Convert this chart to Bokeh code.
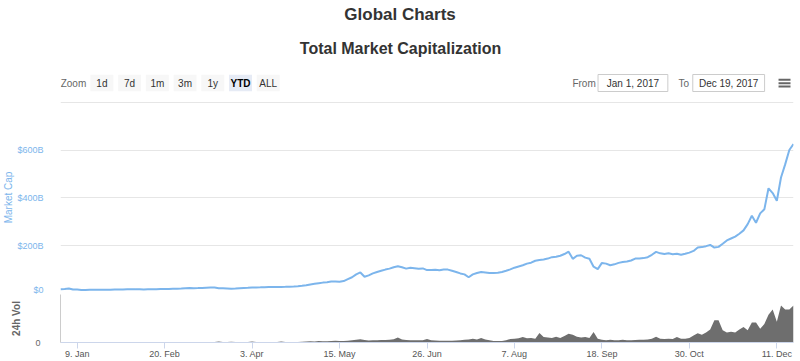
import pandas as pd
from bokeh.plotting import figure
from bokeh.layouts import column
from bokeh.models import Range1d, FixedTicker
from bokeh.core.properties import value
from bokeh.embed import file_html
from bokeh.resources import INLINE

# ---------------- data ----------------
title_text = "Global Charts"
subtitle_text = "Total Market Capitalization"
zoom_label = "Zoom"
zoom_buttons = ["1d", "7d", "1m", "3m", "1y", "YTD", "ALL"]
selected_button = "YTD"
from_label = "From"
to_label = "To"
from_date_text = "Jan 1, 2017"
to_date_text = "Dec 19, 2017"

start_date = "2017-01-01"
step_days = 2

# total market capitalization, billions USD, every 2 days from Jan 1 to Dec 19 2017
market_cap_billions = [
    # Jan
    17.7, 19.0, 21.0, 16.8, 16.5, 14.6, 14.4, 15.2, 16.0, 15.9, 16.1, 16.0, 16.0, 16.3, 16.4, 17.0,
    # Feb
    17.4, 17.6, 17.9, 18.2, 17.2, 17.6, 17.8, 18.0, 18.4, 18.6, 19.2, 19.6, 19.9, 20.6,
    # Mar
    21.8, 22.6, 22.4, 22.8, 23.4, 24.2, 24.6, 25.0, 22.2, 21.6, 20.8, 19.8, 20.6, 21.6, 22.6,
    # Apr
    23.6, 25.0, 25.6, 26.0, 26.6, 26.8, 27.0, 27.4, 27.6, 28.0, 28.6, 29.2, 30.2, 32.0, 34.2,
    # May
    38.0, 40.5, 43.0, 45.5, 47.0, 50.0, 50.5, 49.0, 52.0, 60.0, 68.0, 80.0, 88.0, 70.0, 76.0, 84.0,
    # Jun
    90.0, 95.0, 100.0, 104.0, 110.0, 114.0, 110.0, 104.0, 108.0, 106.0, 104.0, 105.0, 98.0, 98.0, 99.0,
    # Jul
    97.0, 100.0, 100.0, 95.0, 90.0, 84.0, 80.0, 68.0, 80.0, 86.0, 90.0, 88.0, 86.0, 86.0, 87.0,
    # Aug
    90.0, 95.0, 101.0, 108.0, 113.0, 118.0, 125.0, 129.0, 137.0, 140.0, 142.0, 146.0, 152.0, 154.0, 158.0, 165.0,
    # Sep
    175.0, 145.0, 158.0, 160.0, 150.0, 145.0, 112.0, 102.0, 128.0, 125.0, 118.0, 122.0, 128.0, 132.0, 134.0,
    # Oct
    138.0, 146.0, 146.0, 148.0, 152.0, 162.0, 174.0, 168.0, 165.0, 168.0, 164.0, 166.0, 162.0, 166.0, 171.0,
    # Nov
    178.0, 192.0, 194.0, 198.0, 203.0, 192.0, 195.0, 208.0, 222.0, 230.0, 238.0, 250.0, 264.0, 290.0, 325.0,
    # Dec
    296.0, 335.0, 352.0, 440.0, 420.0, 388.0, 485.0, 540.0, 600.0, 625.0,
]

# 24h volume, billions USD, same dates
volume_billions = [
    # Jan
    0.3, 0.3, 0.6, 0.5, 0.3, 0.3, 0.2, 0.2, 0.2, 0.2, 0.2, 0.2, 0.2, 0.2, 0.2, 0.2,
    # Feb
    0.2, 0.2, 0.2, 0.2, 0.2, 0.2, 0.2, 0.2, 0.2, 0.3, 0.3, 0.3, 0.3, 0.3,
    # Mar
    0.3, 0.4, 0.4, 0.4, 0.5, 0.4, 0.5, 0.6, 1.2, 0.8, 0.6, 1.0, 0.6, 0.5, 0.5,
    # Apr
    0.6, 1.2, 0.6, 0.6, 0.6, 0.6, 0.7, 0.6, 1.2, 0.7, 0.7, 0.8, 0.8, 1.0, 1.4,
    # May
    1.5, 1.4, 1.8, 1.6, 1.6, 2.0, 2.2, 2.0, 1.8, 2.4, 2.8, 3.6, 4.2, 3.4, 2.6, 2.8,
    # Jun
    3.0, 3.2, 3.4, 3.6, 4.2, 6.5, 4.0, 3.2, 3.0, 3.0, 2.8, 3.0, 4.4, 2.8, 2.6,
    # Jul
    2.4, 2.4, 2.2, 2.4, 2.6, 3.0, 3.6, 4.0, 4.8, 4.0, 6.0, 4.0, 3.0, 2.0, 1.8,
    # Aug
    2.0, 3.0, 4.5, 5.0, 5.5, 7.0, 5.5, 6.0, 5.0, 12.5, 7.0, 6.5, 6.0, 7.5, 6.0, 8.5,
    # Sep
    11.5, 10.0, 7.5, 6.5, 7.0, 6.0, 13.5, 5.0, 3.5, 3.0, 3.5, 3.0, 3.0, 3.5, 3.0,
    # Oct
    3.0, 3.2, 3.5, 3.5, 4.0, 5.0, 7.5, 5.0, 4.5, 5.0, 4.5, 7.0, 5.0, 5.0, 6.0,
    # Nov
    9.0, 12.0, 10.0, 13.0, 17.0, 29.0, 29.0, 16.0, 13.0, 14.0, 13.0, 17.0, 20.0, 16.0, 26.0,
    # Dec
    26.0, 18.0, 24.0, 36.0, 43.0, 27.0, 48.0, 43.0, 43.0, 48.0,
]

x_tick_dates = ["2017-01-09", "2017-02-20", "2017-04-03", "2017-05-15", "2017-06-26",
                "2017-08-07", "2017-09-18", "2017-10-30", "2017-12-11"]
x_tick_labels = ["9. Jan", "20. Feb", "3. Apr", "15. May", "26. Jun",
                 "7. Aug", "18. Sep", "30. Oct", "11. Dec"]
cap_ticks = [0, 200, 400, 600, 800]
cap_tick_labels = ["$0", "$200B", "$400B", "$600B", ""]
vol_ticks = [0]
vol_tick_labels = ["0"]

# ---------------- derived ----------------
dates = pd.date_range(start_date, periods=len(market_cap_billions), freq=f"{step_days}D")
x_ms = [int(d.timestamp() * 1000) for d in dates]
tick_ms = [int(pd.Timestamp(d).timestamp() * 1000) for d in x_tick_dates]

FONT = "Liberation Sans"
W = 800
LEFT = 58
RIGHT = 7
LINE_BLUE = "#7cb5ec"

# ---------------- header (screen-pixel coordinates) ----------------
HDR_H = 100
hdr = figure(width=W, height=HDR_H, x_range=Range1d(LEFT, W - RIGHT), y_range=Range1d(HDR_H, 0),
             x_axis_location=None, y_axis_location=None, toolbar_location=None,
             output_backend="svg", min_border_left=LEFT, min_border_right=RIGHT,
             min_border_top=0, min_border_bottom=0, outline_line_color=None)
hdr.xgrid.visible = False
hdr.ygrid.visible = False

hdr.text(x=[398.5], y=[13.7], text=[title_text], text_align="center", text_baseline="middle",
         text_font=value(FONT), text_font_style="bold", text_font_size="17px", text_color="#333333")
hdr.text(x=[399], y=[47.5], text=[subtitle_text], text_align="center", text_baseline="middle",
         text_font=value(FONT), text_font_style="bold", text_font_size="16px", text_color="#333333")

btn_y = 82.5
txt_y = 83.2
hdr.text(x=[71], y=[txt_y], text=[zoom_label], text_align="center", text_baseline="middle",
         text_font=value(FONT), text_font_size="10px", text_color="#666666")
btn_x = [99.5 + 27.8 * i for i in range(len(zoom_buttons))]
btn_fill = ["#e6ebf5" if b == selected_button else "#f7f7f7" for b in zoom_buttons]
hdr.rect(x=btn_x, y=[btn_y] * len(btn_x), width=23, height=16.5, fill_color=btn_fill, line_color=None)
for bx, b in zip(btn_x, zoom_buttons):
    sel = b == selected_button
    hdr.text(x=[bx], y=[txt_y], text=[b], text_align="center", text_baseline="middle",
             text_font=value(FONT), text_font_size="10px",
             text_font_style="bold" if sel else "normal",
             text_color="#000000" if sel else "#333333")

hdr.text(x=[583], y=[txt_y], text=[from_label], text_align="center", text_baseline="middle",
         text_font=value(FONT), text_font_size="10px", text_color="#666666")
hdr.rect(x=[632], y=[btn_y], width=70, height=17, fill_color="white", line_color="#cccccc")
hdr.text(x=[632], y=[txt_y], text=[from_date_text], text_align="center", text_baseline="middle",
         text_font=value(FONT), text_font_size="10px", text_color="#333333")
hdr.text(x=[683], y=[txt_y], text=[to_label], text_align="center", text_baseline="middle",
         text_font=value(FONT), text_font_size="10px", text_color="#666666")
hdr.rect(x=[728], y=[btn_y], width=72, height=17, fill_color="white", line_color="#cccccc")
hdr.text(x=[728], y=[txt_y], text=[to_date_text], text_align="center", text_baseline="middle",
         text_font=value(FONT), text_font_size="10px", text_color="#333333")
# menu (hamburger) icon
hdr.segment(x0=[778, 778, 778], y0=[79.3, 82.7, 86.1], x1=[790, 790, 790], y1=[79.3, 82.7, 86.1],
            line_color="#666666", line_width=2)

xr = Range1d(start=x_ms[0], end=x_ms[-1])

# ---------------- main (market cap) ----------------
main = figure(width=W, height=194, x_range=xr, y_range=Range1d(0, 803), x_axis_type="datetime",
              x_axis_location=None, toolbar_location=None, output_backend="svg",
              min_border_left=LEFT, min_border_right=RIGHT, min_border_top=1, min_border_bottom=1,
              outline_line_color=None)
main.line(x=x_ms, y=market_cap_billions, line_color=LINE_BLUE, line_width=2)
main.xgrid.visible = False
main.ygrid.grid_line_color = "#e6e6e6"
ya = main.yaxis[0]
ya.ticker = FixedTicker(ticks=cap_ticks)
ya.major_label_overrides = {t: l for t, l in zip(cap_ticks, cap_tick_labels)}
ya.axis_label = "Market Cap"
ya.axis_label_text_font = FONT
ya.axis_label_text_font_style = "normal"
ya.axis_label_text_font_size = "10px"
ya.axis_label_text_color = LINE_BLUE
ya.axis_label_standoff = 0
ya.major_label_text_font = FONT
ya.major_label_text_font_size = "9px"
ya.major_label_text_color = LINE_BLUE
ya.major_label_text_baseline = "bottom"
ya.major_label_standoff = 11
ya.axis_line_color = None
ya.major_tick_line_color = None
ya.minor_tick_line_color = None

# ---------------- volume ----------------
vol = figure(width=W, height=67, x_range=xr, y_range=Range1d(0, 62.4), x_axis_type="datetime",
             toolbar_location=None, output_backend="svg",
             min_border_left=LEFT, min_border_right=RIGHT, min_border_top=0, min_border_bottom=19,
             outline_line_color=None)
vol.varea(x=x_ms, y1=[0] * len(x_ms), y2=volume_billions, fill_color="#6e6e6e")
vol.xgrid.visible = False
vol.ygrid.visible = False

xa = vol.xaxis[0]
xa.ticker = FixedTicker(ticks=tick_ms)
xa.major_label_overrides = {t: l for t, l in zip(tick_ms, x_tick_labels)}
xa.major_label_text_font = FONT
xa.major_label_text_font_size = "9px"
xa.major_label_text_color = "#555555"
xa.major_label_standoff = 0
xa.axis_line_color = "#ccd6eb"
xa.major_tick_line_color = "#ccd6eb"
xa.major_tick_out = 6
xa.major_tick_in = 0
xa.minor_tick_line_color = None

va = vol.yaxis[0]
va.ticker = FixedTicker(ticks=vol_ticks)
va.major_label_overrides = {t: l for t, l in zip(vol_ticks, vol_tick_labels)}
va.axis_label = "24h Vol"
va.axis_label_text_font = FONT
va.axis_label_text_font_style = "bold"
va.axis_label_text_font_size = "10px"
va.axis_label_text_color = "#666666"
va.axis_label_standoff = 10
va.major_label_text_font = FONT
va.major_label_text_font_size = "9px"
va.major_label_text_color = "#666666"
va.major_label_text_baseline = "bottom"
va.major_label_standoff = 14
va.axis_line_color = "#cccccc"
va.major_tick_line_color = None
va.minor_tick_line_color = None

layout = column(hdr, main, vol, spacing=0)
open("out.html", "w").write(file_html(layout, INLINE))
